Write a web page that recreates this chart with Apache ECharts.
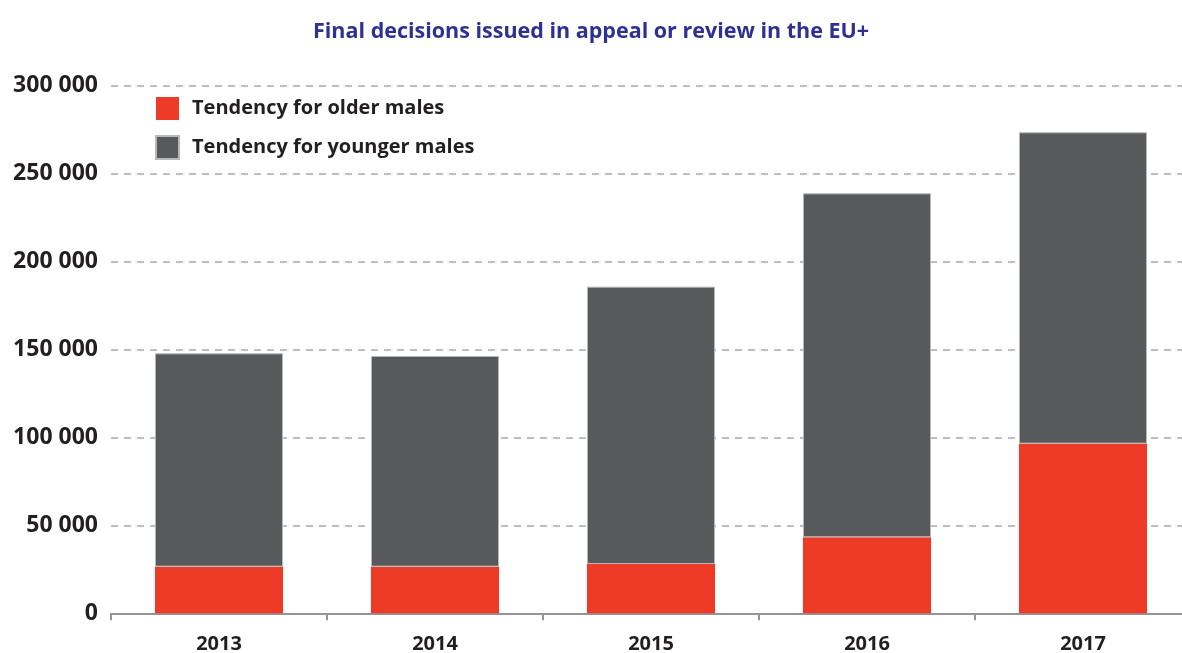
<!DOCTYPE html>
<html><head><meta charset="utf-8">
<script src="https://cdn.jsdelivr.net/npm/echarts@6/dist/echarts.min.js"></script>
<style>html,body{margin:0;padding:0;background:#fff}#c{width:1182px;height:653px}</style>
</head><body><div id="c"></div>
<script>
const categories = ['2013', '2014', '2015', '2016', '2017'];
const olderMales = [26500, 26500, 28000, 43200, 96400];
const youngerMales = [121200, 119700, 157600, 195400, 176900];
const seriesNames = ['Tendency for older males', 'Tendency for younger males'];
const titleText = 'Final decisions issued in appeal or review in the EU+';

const FONT = '"Open Sans", sans-serif';
const chart = echarts.init(document.getElementById('c'));
chart.setOption({
  animation: false,
  title: {
    text: titleText, left: 'center', top: 16,
    textStyle: { color: '#2E3192', fontSize: 21.5, fontWeight: 'bold', fontFamily: FONT }
  },
  legend: {
    orient: 'vertical', left: 155, top: 97, padding: 0, itemWidth: 23, itemHeight: 23, itemGap: 15,
    icon: 'rect',
    textStyle: { color: '#231F20', fontSize: 20, fontWeight: 'bold', fontFamily: FONT, padding: [0,0,0,8] },
    data: seriesNames
  },
  grid: { left: 111, width: 1080, top: 85.3, bottom: 39.7, outerBoundsMode: 'none', containLabel: false },
  xAxis: {
    type: 'category', data: categories,
    axisLine: { lineStyle: { color: '#939598', width: 2 } },
    axisTick: { show: true, length: 7, lineStyle: { color: '#939598', width: 2 } },
    axisLabel: { color: '#231F20', fontSize: 20, fontWeight: 'bold', fontFamily: FONT, margin: 21 }
  },
  yAxis: {
    type: 'value', min: 0, max: 300000, interval: 50000,
    axisLine: { show: false }, axisTick: { show: false },
    axisLabel: {
      color: '#231F20', fontSize: 23, fontWeight: 'bold', fontFamily: FONT, margin: 13,
      formatter: v => v === 0 ? '0' : String(v).replace(/\B(?=(\d{3})+(?!\d))/g, ' ')
    },
    splitLine: { lineStyle: { color: '#BCBEC0', width: 2, type: [7, 6] } }
  },
  series: [
    { name: seriesNames[0], type: 'bar', stack: 't', data: olderMales, barWidth: '59.3%',
      itemStyle: { color: '#EE3B28' } },
    { name: seriesNames[1], type: 'bar', stack: 't', data: youngerMales, barWidth: '59.3%',
      itemStyle: { color: '#58595B', borderColor: '#B8B8BA', borderWidth: 1 } }
  ]
});
</script></body></html>
